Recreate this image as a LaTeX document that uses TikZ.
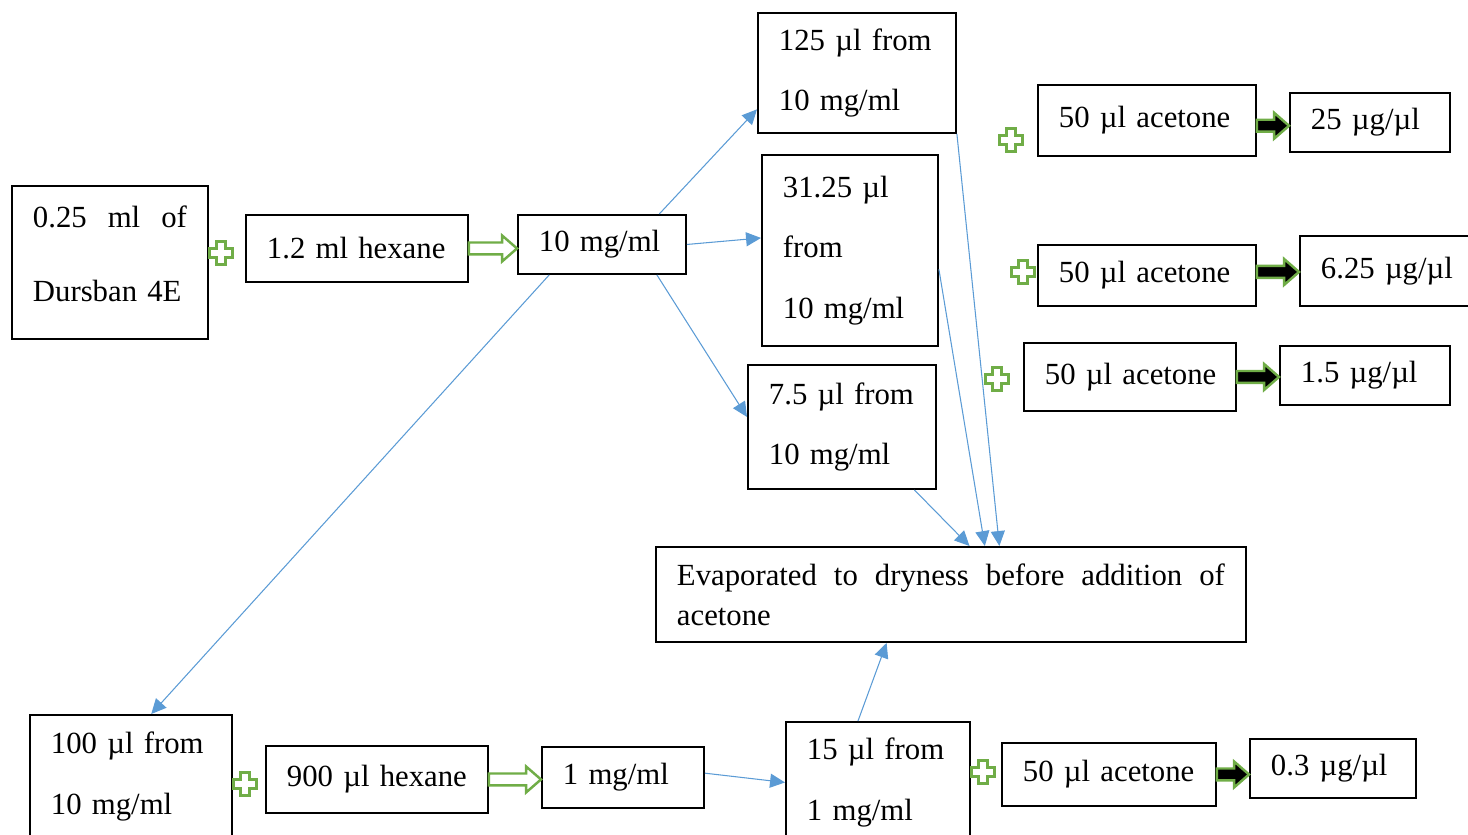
\documentclass[tikz,border=0pt]{standalone}
\usepackage{fontspec}
\setmainfont{Liberation Serif}
\usetikzlibrary{arrows.meta,calc}

\definecolor{flowblue}{HTML}{5B9BD5}
\definecolor{flowgreen}{HTML}{70AD47}

\tikzset{
  box/.style={draw,rectangle,line width=1.1pt,anchor=north west,inner xsep=0.42cm,inner ysep=0pt,align=left,font=\fontsize{17.5}{34.6}\selectfont},
  flow/.style={-{Triangle[length=8.5pt,width=8pt]},flowblue,line width=0.6pt},
  addsign/.pic={\draw[flowgreen,line width=1.5pt,fill=white] (-2.5pt,-6.6pt) -- (2.5pt,-6.6pt) -- (2.5pt,-2.5pt) -- (6.6pt,-2.5pt) -- (6.6pt,2.5pt) -- (2.5pt,2.5pt) -- (2.5pt,6.6pt) -- (-2.5pt,6.6pt) -- (-2.5pt,2.5pt) -- (-6.6pt,2.5pt) -- (-6.6pt,-2.5pt) -- (-2.5pt,-2.5pt) -- cycle;}
}

\newcommand{\blockarr}[4][0pt]{%
  \draw[flowgreen,line width=1.4pt,fill=#2] let \p1=(#3.east), \p2=(#4.west) in
    (\x1,\y1+#1+3.4pt) -- (\x2-8.5pt,\y1+#1+3.4pt) -- (\x2-8.5pt,\y1+#1+7.4pt) -- (\x2,\y1+#1)
    -- (\x2-8.5pt,\y1+#1-7.4pt) -- (\x2-8.5pt,\y1+#1-3.4pt) -- (\x1,\y1+#1-3.4pt) -- cycle;}

\begin{document}
\begin{tikzpicture}[x=0.02cm,y=-0.02cm]
\useasboundingbox (0,0) rectangle (1468,835);

\node[box,text width=3.08cm,minimum height=3.06cm,font=\fontsize{17.5}{42}\selectfont] (durs) at (11,185) {\hbox to 3.08cm{0.25\hfill ml\hfill of}\\\mbox{Dursban 4E}\rule[-10pt]{0pt}{0pt}};
\node[box,text width=3.6cm,minimum height=1.34cm] (hexa) at (245,214) {\mbox{1.2 ml hexane}};
\node[box,text width=2.52cm,minimum height=1.18cm] (tenm) at (517,214) {\mbox{10 mg/ml}};

\node[box,text width=3.12cm,minimum height=2.4cm] (f125) at (757,12) {\mbox{125 µl from}\\\mbox{10 mg/ml}};
\node[box,text width=2.68cm,minimum height=3.82cm] (f31) at (761,154) {\mbox{31.25 µl}\\from\\\mbox{10 mg/ml}};
\node[box,text width=2.92cm,minimum height=2.48cm] (f75) at (747,364) {\mbox{7.5 µl from}\\\mbox{10 mg/ml}};
\node[box,text width=10.96cm,minimum height=1.9cm,font=\fontsize{17.5}{22.7}\selectfont] (evap) at (655,546) {\hbox to 10.96cm{Evaporated\hfill to\hfill dryness\hfill before\hfill addition\hfill of}\\acetone};

\node[box,text width=3.52cm,minimum height=1.42cm] (ace1) at (1037,84) {\mbox{50 µl acetone}};
\node[box,text width=2.36cm,minimum height=1.18cm] (res1) at (1289,92) {\mbox{25 µg/µl}};
\node[box,text width=3.52cm,minimum height=1.22cm] (ace2) at (1037,244) {\mbox{50 µl acetone}};
\node[box,text width=2.68cm,minimum height=1.4cm] (res2) at (1299,235) {\mbox{6.25 µg/µl}};
\node[box,text width=3.4cm,minimum height=1.36cm] (ace3) at (1023,342) {\mbox{50 µl acetone}};
\node[box,text width=2.56cm,minimum height=1.18cm] (res3) at (1279,345) {\mbox{1.5 µg/µl}};

\node[box,text width=3.2cm,minimum height=2.46cm] (f100) at (29,714) {\mbox{100 µl from}\\\mbox{10 mg/ml}};
\node[box,text width=3.6cm,minimum height=1.34cm] (hex9) at (265,745) {\mbox{900 µl hexane}};
\node[box,text width=2.4cm,minimum height=1.22cm] (onem) at (541,746) {\mbox{1 mg/ml}};
\node[box,text width=2.84cm,minimum height=2.42cm] (f15) at (785,721) {\mbox{15 µl from}\\\mbox{1 mg/ml}};
\node[box,text width=3.44cm,minimum height=1.26cm] (ace4) at (1001,742) {\mbox{50 µl acetone}};
\node[box,text width=2.48cm,minimum height=1.18cm] (res4) at (1249,738) {\mbox{0.3 µg/µl}};

\pic at (221,253) {addsign};
\pic at (1011,140) {addsign};
\pic at (1023,272) {addsign};
\pic at (997,379) {addsign};
\pic at (245,784) {addsign};
\pic at (983,772) {addsign};

\blockarr{white}{hexa}{tenm}
\blockarr{white}{hex9}{onem}
\blockarr[-3pt]{black}{ace1}{res1}
\blockarr[2pt]{black}{ace2}{res2}
\blockarr{black}{ace3}{res3}
\blockarr{black}{ace4}{res4}

\draw[flow] (tenm.28.6) -- (f125.200);
\draw[flow] (tenm.east) -- (f31.172);
\draw[flow] (tenm.331) -- (f75.174);
\draw[flow] (tenm.210.5) -- (f100.72);
\draw[flow] (f125.south east) -- (evap.45.3);
\draw[flow] (f31.348) -- (evap.55.2);
\draw[flow] (f75.319) -- (evap.69.2);
\draw[flow] (onem.3) -- (f15.west);
\draw[flow] (f15.108) -- (evap.217.9);
\end{tikzpicture}
\end{document}
